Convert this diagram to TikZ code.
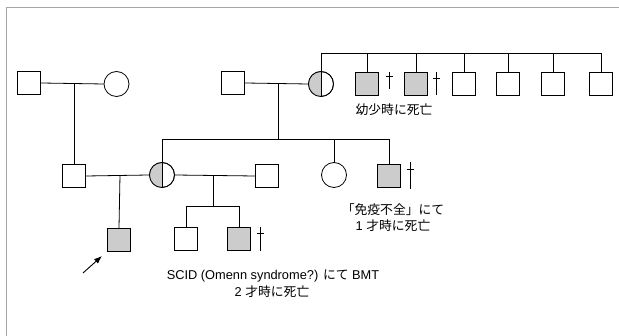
\documentclass[tikz,border=0pt]{standalone}
\usepackage{fontspec}
\setmainfont{Liberation Sans}
\newfontfamily\jp{Noto Sans CJK JP}
\usetikzlibrary{arrows.meta}
\begin{document}
\begin{tikzpicture}[x=1pt,y=-1pt,
  ln/.style={line width=0.8pt},
  male/.style={draw, line width=0.8pt, minimum size=23.5pt, inner sep=0pt},
  female/.style={draw, circle, line width=0.8pt, minimum size=25pt, inner sep=0pt},
  aff/.style={fill=gray!40},
  lbl/.style={font=\fontsize{12.8}{19}\selectfont, align=center, inner sep=0pt},
  dag/.style={line width=0.8pt}]
\useasboundingbox (0,0) rectangle (619,336);
\draw[gray!70, line width=0.8pt] (6,336) -- (6,7) -- (619,7);

% Generation I
\node[male] (I1) at (29,83) {};
\node[female] (I2) at (116.5,84) {};
\node[male] (I3) at (233,83) {};
\node[female] (I4) at (321,84) {};
\fill[gray!40] (I4.south) arc[start angle=-90, end angle=-270, radius=12.5pt] -- cycle;
\draw[ln] (I4.north) -- (I4.south);
\node[female] at (I4) {};

\node[male,aff] (S1) at (367,84) {};
\node[male,aff] (S2) at (416,84) {};
\node[male] (S3) at (464,84) {};
\node[male] (S4) at (508,84) {};
\node[male] (S5) at (553,84) {};
\node[male] (S6) at (601,84) {};

% Generation II
\node[male] (II1) at (74,176) {};
\node[female] (II2) at (162,175) {};
\fill[gray!40] (II2.south) arc[start angle=-90, end angle=-270, radius=12.5pt] -- cycle;
\draw[ln] (II2.north) -- (II2.south);
\node[female] at (II2) {};
\node[male] (II3) at (267,176) {};
\node[female] (II4) at (334,175) {};
\node[male,aff] (II5) at (389,176) {};

% Generation III
\node[male,aff] (P) at (119,240) {};
\node[male] (III2) at (186,239) {};
\node[male,aff] (III3) at (239,239) {};

% connectors
\draw[ln] (I1.east) -- (I2.west);
\draw[ln] (I3.east) -- (I4.west);
\draw[ln] (II1.east) -- (II2.west);
\draw[ln] (II2.east) -- (II3.west);

\coordinate (d1) at (II1.center |- I1.east);
\draw[ln] (d1) -- (II1.north);

\coordinate (d2) at (278,84);
\coordinate (sb2) at (278,139);
\draw[ln] (d2) -- (sb2);
\draw[ln] (II2.north) -- (II2.north |- sb2) -- (II5.north |- sb2) -- (II5.north);
\draw[ln] (II4.north |- sb2) -- (II4.north);

\coordinate (sb1) at (321,53);
\draw[ln] (I4.north) -- (sb1) -- (S6.north |- sb1) -- (S6.north);
\foreach \n in {S1,S2,S3,S4,S5} \draw[ln] (\n.north |- sb1) -- (\n.north);

\coordinate (d3) at (120,175);
\draw[ln] (d3) -- (P.north);

\coordinate (d4) at (213,175);
\coordinate (sb3) at (213,206);
\draw[ln] (d4) -- (sb3);
\draw[ln] (III2.north) -- (III2.north |- sb3) -- (III3.north |- sb3) -- (III3.north);

% deceased marks
\foreach \x/\t/\b in {389/72/89, 436/72/95, 410/162/189, 260/227/251} {
  \draw[dag] (\x,\t) -- (\x,\b);
  \draw[dag] (\x-3.5,{\t+0.28*(\b-\t)}) -- (\x+3.5,{\t+0.28*(\b-\t)});
}

% proband arrow
\coordinate (pa) at (83,273);
\draw[line width=0.9pt, -{Latex[length=8pt,width=6pt]}] (pa) -- (102,256);

% labels
\node[lbl] (t1) at (394,110) {\jp 幼少時に死亡};
\node[lbl] (t2) at (393,210) {\jp 「免疫不全」にて};
\node[lbl] (t3) at (393,226) {1 {\jp 才時に死亡}};
\node[lbl] (t4) at (273,276) {SCID (Omenn syndrome?) {\jp にて} BMT};
\node[lbl] (t5) at (272,292) {2 {\jp 才時に死亡}};
\end{tikzpicture}
\end{document}
